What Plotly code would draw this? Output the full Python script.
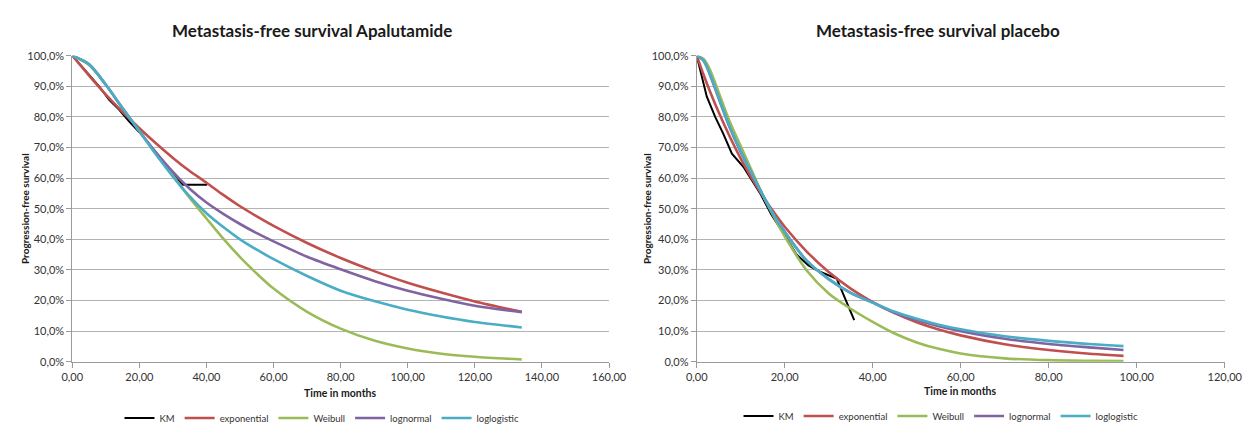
import plotly.graph_objects as go

# ---- Apalutamide arm ----
km_apa_t = [0, 2, 5, 8, 11, 14, 17, 20, 23, 26, 29, 33, 40.2]
km_apa_s = [100, 97.5, 93.7, 90, 85.6, 82.3, 78.5, 75, 71, 66.5, 62.2, 57.8, 57.8]

fit_apa_t = [0, 5, 10, 15, 20, 25, 30, 35, 40, 45, 50, 55, 60, 70, 80, 90, 100, 110, 120, 134]
exp_apa = [100, 93.5, 87.3, 81.6, 76.3, 71.3, 66.6, 62.3, 58.5, 54.5, 50.8, 47.5, 44.4, 38.8, 33.9, 29.6, 25.8, 22.6, 19.7, 16.3]
weib_apa = [100, 97, 90.5, 82.8, 75.3, 68, 60.8, 53.5, 46.8, 40.2, 34.2, 28.8, 23.9, 16.3, 10.8, 6.9, 4.3, 2.6, 1.6, 0.7]
logn_apa = [100, 97.2, 90.5, 82.8, 75.3, 68.3, 62, 56.5, 52, 48.3, 45, 42, 39.3, 34.3, 30.2, 26.4, 23.2, 20.6, 18.3, 16.2]
logl_apa = [100, 97.2, 90.5, 82.8, 75.3, 67.6, 60.5, 54, 48.5, 44, 40, 36.6, 33.5, 28, 23.2, 19.8, 17, 14.8, 13, 11.2]

# ---- Placebo arm ----
km_pla_t = [0, 1.1, 2.3, 4.2, 6.0, 8.0, 10.6, 14.4, 17, 19.7, 22.7, 25.4, 28, 31.8, 35.8]
km_pla_s = [100, 93.1, 86.6, 80, 74.6, 68, 63.7, 55.1, 48, 42, 35, 31.5, 29.4, 27.2, 13.6]

fit_pla_t = [0, 1.5, 3, 5, 7.5, 10, 12.5, 15, 17.5, 20, 25, 30, 35, 40, 45, 50, 55, 60, 70, 80, 90, 97]
exp_pla = [100, 94.0, 88.4, 81.5, 73.6, 66.4, 60.0, 54.2, 48.9, 44.1, 36.0, 29.3, 23.9, 19.5, 15.9, 12.9, 10.5, 8.6, 5.7, 3.8, 2.5, 1.9]
weib_pla = [100, 99, 95.5, 88, 78.5, 70.5, 62.5, 54.5, 47.5, 41, 29.8, 22.3, 17.3, 13, 9.2, 6.3, 4.2, 2.7, 1.1, 0.5, 0.3, 0.2]
logn_pla = [100, 98.5, 93.8, 86, 76.5, 68.5, 61.5, 54.5, 48, 42.5, 33, 27, 22.5, 19.3, 16, 13.6, 11.6, 10.0, 7.5, 5.8, 4.6, 3.8]
logl_pla = [100, 98.5, 94, 86.3, 76.8, 68.8, 61.5, 54.5, 48, 42.5, 33, 27, 22.5, 19.3, 16.3, 14.0, 12.1, 10.6, 8.3, 6.8, 5.7, 5.1]

series_names = ["KM", "exponential", "Weibull", "lognormal", "loglogistic"]
series_colors = ["#000000", "#C0504D", "#9BBB59", "#8064A2", "#4BACC6"]

y_ticks = [0, 10, 20, 30, 40, 50, 60, 70, 80, 90, 100]
y_ticktext = ["0,0%", "10,0%", "20,0%", "30,0%", "40,0%", "50,0%", "60,0%", "70,0%", "80,0%", "90,0%", "100,0%"]
x_ticks_apa = [0, 20, 40, 60, 80, 100, 120, 140, 160]
x_ticks_pla = [0, 20, 40, 60, 80, 100, 120]

FONT = "Lato"

fig = go.Figure()


def add_panel(km_t, km_s, t, fits, xa, ya, legend):
    fig.add_trace(go.Scatter(
        x=km_t, y=km_s, mode="lines", name=series_names[0],
        line=dict(color=series_colors[0], width=2),
        xaxis=xa, yaxis=ya, legend=legend))
    for name, color, vals in zip(series_names[1:], series_colors[1:], fits):
        fig.add_trace(go.Scatter(
            x=t, y=vals, mode="lines", name=name,
            line=dict(color=color, width=2.6, shape="spline", smoothing=0.8),
            xaxis=xa, yaxis=ya, legend=legend))


add_panel(km_apa_t, km_apa_s, fit_apa_t,
          [exp_apa, weib_apa, logn_apa, logl_apa], "x", "y", "legend")
add_panel(km_pla_t, km_pla_s, fit_pla_t,
          [exp_pla, weib_pla, logn_pla, logl_pla], "x2", "y2", "legend2")

W, H = 1243, 434
y_dom = [1 - 361.7 / H, 1 - 55.7 / H]

axis_common = dict(
    showline=True, linecolor="#9a9a9a", linewidth=1,
    ticks="outside", ticklen=5, tickcolor="#9a9a9a",
    tickfont=dict(family=FONT, size=11, color="#333333"),
    zeroline=False, automargin=False,
)

xaxis_style = dict(axis_common, showgrid=False)
yaxis_style = dict(axis_common, showgrid=True, gridcolor="#b3b3b3", gridwidth=1.3,
                   tickvals=y_ticks, ticktext=y_ticktext, range=[0, 100])

legend_style = dict(
    orientation="h", xanchor="center", yanchor="middle",
    font=dict(family=FONT, size=9.5, color="#333333"),
    itemwidth=30, bgcolor="rgba(0,0,0,0)",
)

fig.update_layout(
    width=W, height=H,
    margin=dict(l=0, r=0, t=0, b=0),
    paper_bgcolor="white", plot_bgcolor="white",
    xaxis=dict(xaxis_style, domain=[72.3 / W, 609 / W], range=[0, 160],
               tickvals=x_ticks_apa, ticktext=[f"{v},00" for v in x_ticks_apa]),
    yaxis=dict(yaxis_style, domain=y_dom, anchor="x"),
    xaxis2=dict(xaxis_style, domain=[696.7 / W, 1224.7 / W], range=[0, 120],
                tickvals=x_ticks_pla, ticktext=[f"{v},00" for v in x_ticks_pla]),
    yaxis2=dict(yaxis_style, domain=y_dom, anchor="x2"),
    legend=dict(legend_style, x=322 / W, y=1 - 418 / H),
    legend2=dict(legend_style, x=941 / W, y=1 - 416 / H),
    showlegend=True,
)

annotations = [
    dict(text="<b>Metastasis-free survival Apalutamide</b>", x=312 / W, y=1 - 31 / H,
         font=dict(family=FONT, size=17, color="#1a1a1a")),
    dict(text="<b>Metastasis-free survival placebo</b>", x=938 / W, y=1 - 31 / H,
         font=dict(family=FONT, size=17, color="#1a1a1a")),
    dict(text="<b>Time in months</b>", x=340.5 / W, y=1 - 393 / H,
         font=dict(family=FONT, size=10.5, color="#1a1a1a")),
    dict(text="<b>Time in months</b>", x=960.7 / W, y=1 - 391 / H,
         font=dict(family=FONT, size=10.5, color="#1a1a1a")),
    dict(text="<b>Progression-free survival</b>", x=25 / W, y=1 - 209 / H, textangle=-90,
         font=dict(family=FONT, size=10, color="#1a1a1a")),
    dict(text="<b>Progression-free survival</b>", x=647 / W, y=1 - 209 / H, textangle=-90,
         font=dict(family=FONT, size=10, color="#1a1a1a")),
]
for a in annotations:
    a.update(xref="paper", yref="paper", showarrow=False, xanchor="center", yanchor="middle")
fig.update_layout(annotations=annotations)

fig.write_html("out.html")
